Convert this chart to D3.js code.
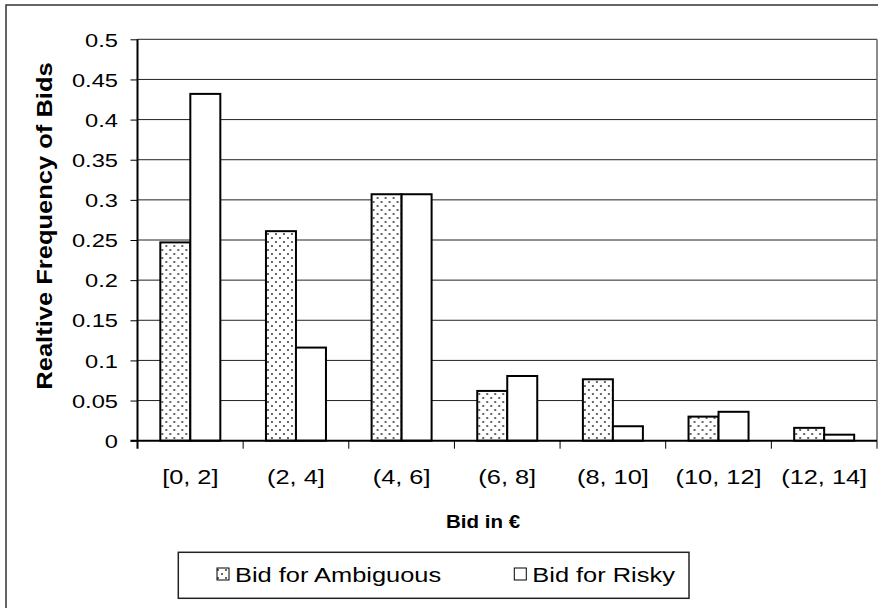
<!DOCTYPE html>
<html>
<head>
<meta charset="utf-8">
<script src="https://cdn.jsdelivr.net/npm/d3@7"></script>
<style>
  html, body { margin: 0; padding: 0; background: #fff; }
  svg { display: block; font-family: "Liberation Sans", Arial, sans-serif; }
</style>
</head>
<body>
<svg id="chart" width="878" height="608"></svg>
<script>
// Bid intervals (in €)
const categories = ["[0, 2]", "(2, 4]", "(4, 6]", "(6, 8]", "(8, 10]", "(10, 12]", "(12, 14]"];
// Relative frequency of bids per interval
const ambiguous = [0.247, 0.261, 0.307, 0.062, 0.0765, 0.030, 0.016];
const risky     = [0.432, 0.116, 0.307, 0.0806, 0.018, 0.036, 0.0075];
const seriesNames = ["Bid for Ambiguous", "Bid for Risky"];
const yTicks = [0, 0.05, 0.1, 0.15, 0.2, 0.25, 0.3, 0.35, 0.4, 0.45, 0.5];

const svg = d3.select("#chart");
const plotL = 137.5, plotR = 877, plotT = 39.3, plotB = 440.7;
const sx = 1.28; // horizontal widening of the text

const defs = svg.append("defs");
const pat = defs.append("pattern")
  .attr("id", "dots").attr("patternUnits", "userSpaceOnUse")
  .attr("width", 8).attr("height", 8);
pat.append("rect").attr("width", 8).attr("height", 8).attr("fill", "#fff");
pat.append("circle").attr("cx", 2).attr("cy", 2).attr("r", 1).attr("fill", "#333");
pat.append("circle").attr("cx", 6).attr("cy", 6).attr("r", 1).attr("fill", "#333");

// outer frame
svg.append("rect").attr("x", 6).attr("y", 5).attr("width", 900).attr("height", 700)
  .attr("fill", "none").attr("stroke", "#333").attr("stroke-width", 1.5);

const y = d3.scaleLinear().domain([0, 0.5]).range([plotB, plotT]);
const x = d3.scaleBand().domain(categories).range([plotL, plotR]);
const groupW = 60;
const x1 = d3.scaleBand().domain(seriesNames).range([0, groupW]);

// gridlines
svg.append("g").selectAll("line").data(yTicks.filter(d => d > 0)).join("line")
  .attr("x1", plotL).attr("x2", plotR)
  .attr("y1", d => y(d)).attr("y2", d => y(d))
  .attr("stroke", "#222").attr("stroke-width", 1);
// right edge of plot area
svg.append("line").attr("x1", plotR).attr("x2", plotR).attr("y1", plotT).attr("y2", plotB)
  .attr("stroke", "#666").attr("stroke-width", 1.5);

// y axis
const yAxis = svg.append("g").attr("transform", `translate(${plotL},0)`)
  .call(d3.axisLeft(y).tickValues(yTicks).tickSize(7).tickPadding(0).tickFormat(d => String(d)));
yAxis.select(".domain").remove();
yAxis.selectAll(".tick line").attr("stroke", "#000").attr("stroke-width", 1);
yAxis.selectAll(".tick text")
  .attr("x", null).attr("dy", null)
  .attr("text-anchor", "end")
  .attr("font-size", 18.5).attr("fill", "#000").attr("font-family", "Liberation Sans, Arial, sans-serif")
  .attr("transform", `translate(-19.5,6.7) scale(${sx},1)`);

// bars
const rows = categories.map((c, i) => ({ c, vals: [ambiguous[i], risky[i]] }));
const grp = svg.append("g").selectAll("g").data(rows).join("g")
  .attr("transform", d => `translate(${x(d.c) + (x.bandwidth() - groupW) / 2},0)`);
grp.selectAll("rect").data(d => d.vals.map((v, j) => ({ v, s: seriesNames[j] }))).join("rect")
  .attr("x", d => x1(d.s)).attr("width", x1.bandwidth())
  .attr("y", d => y(d.v)).attr("height", d => plotB - y(d.v))
  .attr("fill", d => d.s === seriesNames[0] ? "url(#dots)" : "#fff")
  .attr("stroke", "#000").attr("stroke-width", 2);

// x axis line and category-boundary ticks
svg.append("line").attr("x1", plotL - 7).attr("x2", plotR).attr("y1", plotB).attr("y2", plotB)
  .attr("stroke", "#000").attr("stroke-width", 2);
svg.append("line").attr("x1", plotL).attr("x2", plotL).attr("y1", plotT).attr("y2", plotB + 8)
  .attr("stroke", "#000").attr("stroke-width", 2);
const bounds = categories.slice(1).map(c => x(c)).concat([plotR]);
svg.append("g").selectAll("line").data(bounds).join("line")
  .attr("x1", d => d).attr("x2", d => d).attr("y1", plotB).attr("y2", plotB + 8)
  .attr("stroke", "#000").attr("stroke-width", 1);

// category labels
svg.append("g").selectAll("text").data(categories).join("text")
  .attr("transform", d => `translate(${x(d) + x.bandwidth() / 2},483.5) scale(1.3,1)`)
  .attr("text-anchor", "middle").attr("font-size", 19.5).text(d => d);

// axis titles
svg.append("text").attr("transform", `translate(483,527.5) scale(1.08,1)`)
  .attr("text-anchor", "middle").attr("font-size", 19).attr("font-weight", "bold").text("Bid in €");
svg.append("text").attr("transform", `translate(52,226) rotate(-90) scale(1.16,1)`)
  .attr("text-anchor", "middle").attr("font-size", 22).attr("font-weight", "bold")
  .text("Realtive Frequency of Bids");

// legend
const lg = svg.append("g");
lg.append("rect").attr("x", 178.3).attr("y", 552.3).attr("width", 510.7).attr("height", 46)
  .attr("fill", "#fff").attr("stroke", "#222").attr("stroke-width", 1.5);
const legendX = [217, 514.3];
seriesNames.forEach((name, i) => {
  lg.append("rect").attr("x", legendX[i]).attr("y", 568).attr("width", 12).attr("height", 12)
    .attr("fill", i === 0 ? "url(#dots)" : "#fff").attr("stroke", "#000").attr("stroke-width", 1);
  lg.append("text").attr("transform", `translate(${legendX[i] + 18},581.5) scale(1.27,1)`)
    .attr("font-size", 20).text(name);
});
</script>
</body>
</html>
